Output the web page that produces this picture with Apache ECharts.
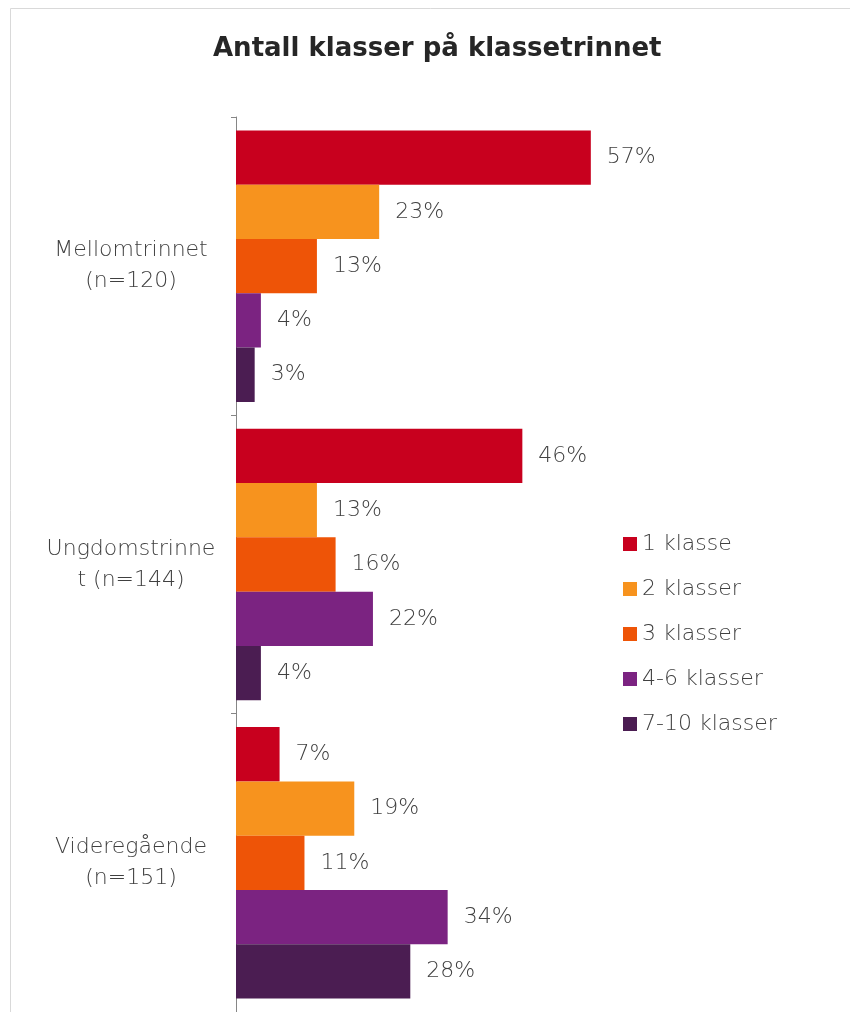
<!DOCTYPE html>
<html>
<head>
<meta charset="utf-8">
<script src="https://cdn.jsdelivr.net/npm/echarts@6/dist/echarts.min.js"></script>
<style>
    html, body { margin: 0; padding: 0; background: #fff; }
    #main { width: 850px; height: 1012px; }
</style>
</head>
<body>
<div id="main"></div>
<script>
    // kategorier (y-aksen) og serier
    var categories = ['Mellomtrinnet\n(n=120)', 'Ungdomstrinne\nt (n=144)', 'Videregående\n(n=151)'];
    var seriesNames = ['1 klasse', '2 klasser', '3 klasser', '4-6 klasser', '7-10 klasser'];
    var seriesColors = ['#C8001E', '#F7931E', '#EE5407', '#7B2381', '#4B1D52'];
    var klasse1 = [57, 46, 7];
    var klasser2 = [23, 13, 19];
    var klasser3 = [13, 16, 11];
    var klasser4_6 = [4, 22, 34];
    var klasser7_10 = [3, 4, 28];
    var seriesData = [klasse1, klasser2, klasser3, klasser4_6, klasser7_10];

    var labelFont = '"DejaVu Sans ExtraLight", "DejaVu Sans", sans-serif';
    var textColor = '#404040';

    var chart = echarts.init(document.getElementById('main'));

    var series = seriesNames.map(function (name, i) {
        return {
            name: name,
            type: 'bar',
            data: seriesData[i],
            barGap: 0,
            barCategoryGap: '9%',
            itemStyle: { color: seriesColors[i] },
            label: {
                show: true,
                position: 'right',
                distance: 16,
                formatter: '{c}%',
                color: textColor,
                fontSize: 22,
                fontWeight: 200,
                fontFamily: labelFont
            }
        };
    });

    var option = {
        animation: false,
        title: {
            text: 'Antall klasser på klassetrinnet',
            left: 208,
            top: 31,
            textStyle: {
                fontSize: 26,
                fontWeight: 'bold',
                color: '#262626',
                fontFamily: '"DejaVu Sans", sans-serif'
            }
        },
        graphic: [{
            type: 'rect',
            shape: { x: 10.5, y: 8.5, width: 900, height: 1100 },
            style: { fill: 'none', stroke: '#D9D9D9', lineWidth: 1 },
            silent: true
        }],
        legend: {
            orient: 'vertical',
            left: 618,
            top: 527,
            icon: 'rect',
            itemWidth: 14,
            itemHeight: 14,
            itemGap: 21,
            data: seriesNames,
            textStyle: {
                color: textColor,
                fontSize: 22,
                fontWeight: 200,
                lineHeight: 24,
                fontFamily: labelFont
            }
        },
        grid: {
            left: 236,
            top: 117,
            width: 498,
            height: 900
        },
        xAxis: {
            type: 'value',
            min: 0,
            max: 80,
            show: false
        },
        yAxis: {
            type: 'category',
            inverse: true,
            data: categories,
            axisLine: { show: true, lineStyle: { color: '#868686', width: 1 } },
            axisTick: { show: true, length: 5, lineStyle: { color: '#868686' } },
            axisLabel: {
                align: 'center',
                margin: 105,
                color: textColor,
                fontSize: 22,
                fontWeight: 200,
                lineHeight: 31,
                fontFamily: labelFont
            }
        },
        series: series
    };

    chart.setOption(option);
</script>
</body>
</html>
